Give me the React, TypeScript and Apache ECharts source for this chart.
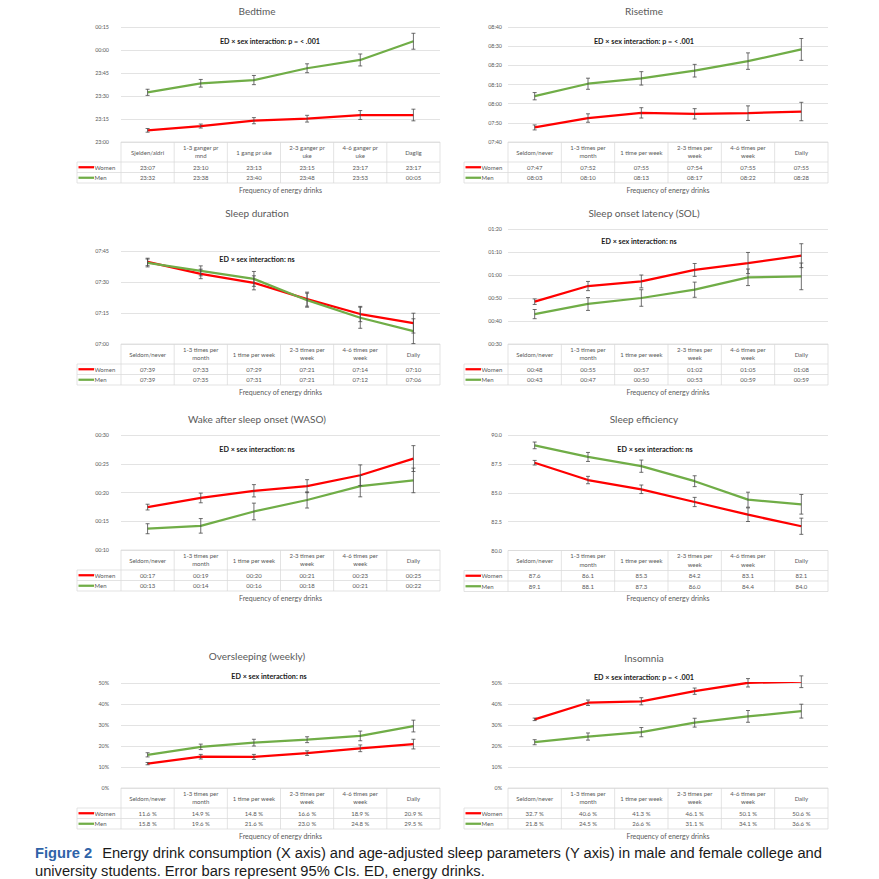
import React, { useEffect, useRef } from 'react';
import * as echarts from 'echarts';

// ---------- categories ----------
const categoriesNo = ['Sjelden/aldri', '1-3 ganger pr\nmnd', '1 gang pr uke', '2-3 ganger pr\nuke', '4-6 ganger pr\nuke', 'Daglig'];
const categoriesEn = ['Seldom/never', '1-3 times per\nmonth', '1 time per week', '2-3 times per\nweek', '4-6 times per\nweek', 'Daily'];

// ---------- data (times in minutes since midnight; after-midnight +1440) ----------
const bedtimeAxis = [1380, 1455, 15];
const bedtimeWomen = [1387.6, 1390.4, 1393.9, 1395.2, 1397.6, 1397.6];
const bedtimeMen = [1412.4, 1418.3, 1420.4, 1428.1, 1433.5, 1445.7];
const bedtimeWomenCI = [1.2, 1.3, 2.0, 2.2, 2.9, 3.8];
const bedtimeMenCI = [2.0, 2.5, 3.0, 2.9, 3.9, 5.2];

const risetimeAxis = [460, 520, 10];
const risetimeWomen = [467.6, 472.5, 475.2, 474.7, 475.05, 475.9];
const risetimeMen = [483.9, 490.4, 493.2, 497.2, 502.2, 508.3];
const risetimeWomenCI = [1.3, 2.2, 2.7, 2.7, 3.8, 4.8];
const risetimeMenCI = [1.9, 2.9, 3.5, 3.3, 4.3, 5.7];

const durationAxis = [420, 465, 15];
const durationWomen = [459.7, 453.9, 449.6, 441.7, 434.5, 430.1];
const durationMen = [459.2, 455.4, 451.5, 441.2, 432.7, 426.2];
const durationWomenCI = [1.8, 2.3, 3.4, 3.4, 3.7, 4.8];
const durationMenCI = [1.9, 2.4, 3.6, 3.4, 5.1, 6.0];

const solAxis = [30, 80, 10];
const solWomen = [48.4, 55.2, 57.2, 62.2, 65.2, 68.4];
const solMen = [43.0, 47.4, 50.0, 53.6, 59.0, 59.4];
const solWomenCI = [1.2, 2.0, 2.8, 2.8, 4.6, 5.2];
const solMenCI = [2.0, 2.8, 3.6, 3.3, 3.6, 5.8];

const wasoAxis = [10, 30, 5];
const wasoWomen = [17.46, 19.05, 20.3, 21.1, 23.0, 25.9];
const wasoMen = [13.7, 14.2, 16.7, 18.7, 21.1, 22.1];
const wasoWomenCI = [0.5, 0.84, 1.07, 1.13, 1.8, 2.25];
const wasoMenCI = [0.87, 1.27, 1.45, 1.4, 1.85, 2.14];

const efficiencyAxis = [80, 90, 2.5];
const efficiencyWomen = [87.6, 86.1, 85.3, 84.2, 83.1, 82.1];
const efficiencyMen = [89.1, 88.1, 87.3, 86.0, 84.4, 84.0];
const efficiencyWomenCI = [0.2, 0.32, 0.37, 0.4, 0.59, 0.7];
const efficiencyMenCI = [0.29, 0.39, 0.53, 0.47, 0.65, 0.85];

const oversleepAxis = [0, 50, 10];
const oversleepWomen = [11.6, 14.9, 14.8, 16.6, 18.9, 20.9];
const oversleepMen = [15.8, 19.6, 21.6, 23.0, 24.8, 29.5];
const oversleepWomenCI = [0.55, 1.1, 1.2, 1.1, 1.6, 2.3];
const oversleepMenCI = [1.0, 1.3, 1.6, 1.4, 2.3, 2.8];

const insomniaAxis = [0, 50, 10];
const insomniaWomen = [32.7, 40.6, 41.3, 46.1, 50.1, 50.6];
const insomniaMen = [21.8, 24.5, 26.6, 31.1, 34.1, 36.6];
const insomniaWomenCI = [0.6, 1.3, 1.7, 1.5, 2.0, 2.8];
const insomniaMenCI = [1.2, 1.7, 2.2, 2.1, 2.8, 3.3];

const annP = 'ED × sex interaction: p = < .001';
const annNs = 'ED × sex interaction: ns';
const xName = 'Frequency of energy drinks';

// ---------- formatting ----------
const pad = (n: number) => (n < 10 ? '0' : '') + n;
const hhmm = (m: number) => {
  const t = ((Math.floor(m + 1e-6) % 1440) + 1440) % 1440;
  return pad(Math.floor(t / 60)) + ':' + pad(t % 60);
};
const fmts: any = {
  time: { axis: (v: number) => hhmm(v), table: (v: number) => hhmm(v) },
  pct: { axis: (v: number) => v + '%', table: (v: number) => v.toFixed(1) + ' %' },
  dec: { axis: (v: number) => v.toFixed(1), table: (v: number) => v.toFixed(1) },
};

const panels = [
  { title: 'Bedtime', ann: annP, cats: categoriesNo, women: bedtimeWomen, men: bedtimeMen, wCI: bedtimeWomenCI, mCI: bedtimeMenCI, axis: bedtimeAxis, fmt: 'time' },
  { title: 'Risetime', ann: annP, cats: categoriesEn, women: risetimeWomen, men: risetimeMen, wCI: risetimeWomenCI, mCI: risetimeMenCI, axis: risetimeAxis, fmt: 'time' },
  { title: 'Sleep duration', ann: annNs, cats: categoriesEn, women: durationWomen, men: durationMen, wCI: durationWomenCI, mCI: durationMenCI, axis: durationAxis, fmt: 'time' },
  { title: 'Sleep onset latency (SOL)', ann: annNs, cats: categoriesEn, women: solWomen, men: solMen, wCI: solWomenCI, mCI: solMenCI, axis: solAxis, fmt: 'time' },
  { title: 'Wake after sleep onset (WASO)', ann: annNs, cats: categoriesEn, women: wasoWomen, men: wasoMen, wCI: wasoWomenCI, mCI: wasoMenCI, axis: wasoAxis, fmt: 'time' },
  { title: 'Sleep efficiency', ann: annNs, cats: categoriesEn, women: efficiencyWomen, men: efficiencyMen, wCI: efficiencyWomenCI, mCI: efficiencyMenCI, axis: efficiencyAxis, fmt: 'dec' },
  { title: 'Oversleeping (weekly)', ann: annNs, cats: categoriesEn, women: oversleepWomen, men: oversleepMen, wCI: oversleepWomenCI, mCI: oversleepMenCI, axis: oversleepAxis, fmt: 'pct' },
  { title: 'Insomnia', ann: annP, cats: categoriesEn, women: insomniaWomen, men: insomniaMen, wCI: insomniaWomenCI, mCI: insomniaMenCI, axis: insomniaAxis, fmt: 'pct' },
];

// ---------- layout ----------
const L = { left: 121, width: 319, legendLeft: 77, yMargin: 12 };
const R = { left: 508, width: 320, legendLeft: 464, yMargin: 6 };
const layouts = [
  { ...L, top: 27, height: 115, titleX: 257, titleY: 11, annX: 270, annY: 41 },
  { ...R, top: 27, height: 115, titleX: 644, titleY: 11, annX: 644, annY: 41 },
  { ...L, top: 251, height: 93, titleX: 257, titleY: 213, annX: 257, annY: 259 },
  { ...R, top: 229, height: 115, titleX: 644, titleY: 213, annX: 639, annY: 241 },
  { ...L, top: 435, height: 115, titleX: 257, titleY: 419, annX: 257, annY: 449 },
  { ...R, top: 435, height: 115.5, titleX: 644, titleY: 419, annX: 655, annY: 449 },
  { ...L, top: 683, height: 105, titleX: 257, titleY: 656, annX: 269, annY: 676 },
  { ...R, top: 683, height: 105, titleX: 644, titleY: 658, annX: 644, annY: 677 },
];

const FONT = 'Lato, "Noto Sans", sans-serif';
const CAPFONT = '"Liberation Sans", Arial, sans-serif';
const GRAY = '#595959';
const BORDER = '#d9d9d9';
const RED = '#ff0000';
const GREEN = '#70ad47';
const HDR = 20, ROW = 10.5;

const errRender = (params: any, api: any) => {
  const x = api.value(0);
  const a = api.coord([x, api.value(1)]);
  const b = api.coord([x, api.value(2)]);
  const w = 2;
  const style = { stroke: '#4a4a4a', lineWidth: 0.8 };
  return {
    type: 'group',
    children: [
      { type: 'line', shape: { x1: a[0], y1: a[1], x2: b[0], y2: b[1] }, style },
      { type: 'line', shape: { x1: a[0] - w, y1: a[1], x2: a[0] + w, y2: a[1] }, style },
      { type: 'line', shape: { x1: b[0] - w, y1: b[1], x2: b[0] + w, y2: b[1] }, style },
    ],
  };
};

function buildOption() {
  const grid: any[] = [];
  const xAxis: any[] = [];
  const yAxis: any[] = [];
  const series: any[] = [];
  const graphic: any[] = [];

  panels.forEach((p, k) => {
    const lay = layouts[k];
    const f = fmts[p.fmt];
    grid.push({ left: lay.left, top: lay.top, width: lay.width, height: lay.height, outerBoundsMode: 'none', containLabel: false });
    xAxis.push({
      type: 'category',
      gridIndex: k,
      data: p.cats,
      boundaryGap: true,
      axisLine: { show: false },
      axisTick: { show: false },
      splitLine: { show: false },
      axisLabel: {
        interval: 0,
        margin: 0,
        hideOverlap: false,
        color: GRAY,
        fontFamily: FONT,
        fontSize: 6,
        formatter: (val: string, idx: number) => {
          const parts = String(val).split('\n');
          const h = parts.length === 1 ? `{h1|${parts[0]}}` : `{h2a|${parts[0]}}\n{h2b|${parts[1]}}`;
          return `${h}\n{v|${f.table(p.women[idx])}}\n{v|${f.table(p.men[idx])}}`;
        },
        rich: {
          h1: { fontSize: 6, lineHeight: HDR, color: GRAY, fontFamily: FONT },
          h2a: { fontSize: 6, lineHeight: 10.5, verticalAlign: 'middle', color: GRAY, fontFamily: FONT },
          h2b: { fontSize: 6, lineHeight: 9.5, verticalAlign: 'top', color: GRAY, fontFamily: FONT },
          v: { fontSize: 6, lineHeight: ROW, color: GRAY, fontFamily: FONT },
        },
      },
      name: xName,
      nameLocation: 'middle',
      nameGap: 44,
      nameTextStyle: { color: GRAY, fontSize: 7, fontFamily: FONT },
    });
    yAxis.push({
      type: 'value',
      gridIndex: k,
      min: p.axis[0],
      max: p.axis[1],
      interval: p.axis[2],
      axisLine: { show: false },
      axisTick: { show: false },
      splitLine: { show: true, lineStyle: { color: BORDER, width: 0.75 } },
      axisLabel: { color: GRAY, fontSize: 5.4, fontFamily: FONT, margin: lay.yMargin, formatter: (v: number) => f.axis(v) },
    });
    series.push({
      type: 'line', name: 'Women', xAxisIndex: k, yAxisIndex: k, data: p.women,
      showSymbol: false, symbol: 'none', lineStyle: { color: RED, width: 2.25 }, itemStyle: { color: RED }, z: 2,
    });
    series.push({
      type: 'line', name: 'Men', xAxisIndex: k, yAxisIndex: k, data: p.men,
      showSymbol: false, symbol: 'none', lineStyle: { color: GREEN, width: 2.25 }, itemStyle: { color: GREEN }, z: 3,
    });
    series.push({
      type: 'custom', xAxisIndex: k, yAxisIndex: k, renderItem: errRender, silent: true, z: 5,
      encode: { x: 0, y: [1, 2] },
      data: p.women.map((v, i) => [i, v - p.wCI[i], v + p.wCI[i]]),
    });
    series.push({
      type: 'custom', xAxisIndex: k, yAxisIndex: k, renderItem: errRender, silent: true, z: 5,
      encode: { x: 0, y: [1, 2] },
      data: p.men.map((v, i) => [i, v - p.mCI[i], v + p.mCI[i]]),
    });

    // titles
    graphic.push({
      type: 'text', x: lay.titleX, y: lay.titleY, silent: true,
      style: { text: p.title, fill: GRAY, fontSize: 10, fontFamily: FONT, align: 'center', verticalAlign: 'middle', textAlign: 'center', textVerticalAlign: 'middle' },
    });
    graphic.push({
      type: 'text', x: lay.annX, y: lay.annY, silent: true,
      style: { text: p.ann, fill: '#1a1a1a', fontSize: 7.2, fontWeight: 'bold', fontFamily: FONT, align: 'center', verticalAlign: 'middle', textAlign: 'center', textVerticalAlign: 'middle' },
    });

    // table borders
    const y0 = lay.top + lay.height;
    const y1 = y0 + HDR, y2 = y1 + ROW, y3 = y2 + ROW;
    const right = lay.left + lay.width;
    const colW = lay.width / p.cats.length;
    const ls = { stroke: BORDER, lineWidth: 0.75 };
    for (let i = 0; i <= p.cats.length; i++) {
      const x = lay.left + i * colW;
      graphic.push({ type: 'line', silent: true, shape: { x1: x, y1: y0, x2: x, y2: y3 }, style: ls });
    }
    graphic.push({ type: 'line', silent: true, shape: { x1: lay.legendLeft, y1: y1, x2: lay.legendLeft, y2: y3 }, style: ls });
    graphic.push({ type: 'line', silent: true, shape: { x1: lay.left, y1: y0, x2: right, y2: y0 }, style: ls });
    [y1, y2, y3].forEach((yy) => graphic.push({ type: 'line', silent: true, shape: { x1: lay.legendLeft, y1: yy, x2: right, y2: yy }, style: ls }));

    // legend keys
    [['Women', RED, (y1 + y2) / 2], ['Men', GREEN, (y2 + y3) / 2]].forEach(([name, col, yy]: any) => {
      graphic.push({ type: 'line', silent: true, shape: { x1: lay.legendLeft + 1.5, y1: yy, x2: lay.legendLeft + 17, y2: yy }, style: { stroke: col, lineWidth: 2.25 } });
      graphic.push({
        type: 'text', silent: true, x: lay.legendLeft + 17.5, y: yy,
        style: { text: name, fill: GRAY, fontSize: 6, fontFamily: FONT, align: 'left', verticalAlign: 'middle', textAlign: 'left', textVerticalAlign: 'middle' },
      });
    });
  });

  // caption
  graphic.push({
    type: 'text', x: 35, y: 853, silent: true,
    style: {
      text: '{b|Figure 2}   {n|Energy drink consumption (X axis) and age-adjusted sleep parameters (Y axis) in male and female college and}',
      verticalAlign: 'middle', textVerticalAlign: 'middle', align: 'left', textAlign: 'left',
      rich: {
        b: { fontSize: 14.7, fontWeight: 'bold', fill: '#2f63a8', fontFamily: CAPFONT },
        n: { fontSize: 14.7, fill: '#1a1a1a', fontFamily: CAPFONT },
      },
    },
  });
  graphic.push({
    type: 'text', x: 35, y: 871, silent: true,
    style: {
      text: 'university students. Error bars represent 95% CIs. ED, energy drinks.',
      fontSize: 14.7, fill: '#1a1a1a', fontFamily: CAPFONT,
      verticalAlign: 'middle', textVerticalAlign: 'middle', align: 'left', textAlign: 'left',
    },
  });

  return {
    animation: false,
    backgroundColor: '#ffffff',
    grid, xAxis, yAxis, series, graphic,
  };
}

export default function App() {
  const ref = useRef<HTMLDivElement>(null);
  useEffect(() => {
    if (!ref.current) return;
    const chart = echarts.init(ref.current, null, { renderer: 'svg' });
    chart.setOption(buildOption() as any);
    return () => chart.dispose();
  }, []);
  return <div ref={ref} style={{ position: 'fixed', left: 0, top: 0, width: 879, height: 879, background: '#fff' }} />;
}
